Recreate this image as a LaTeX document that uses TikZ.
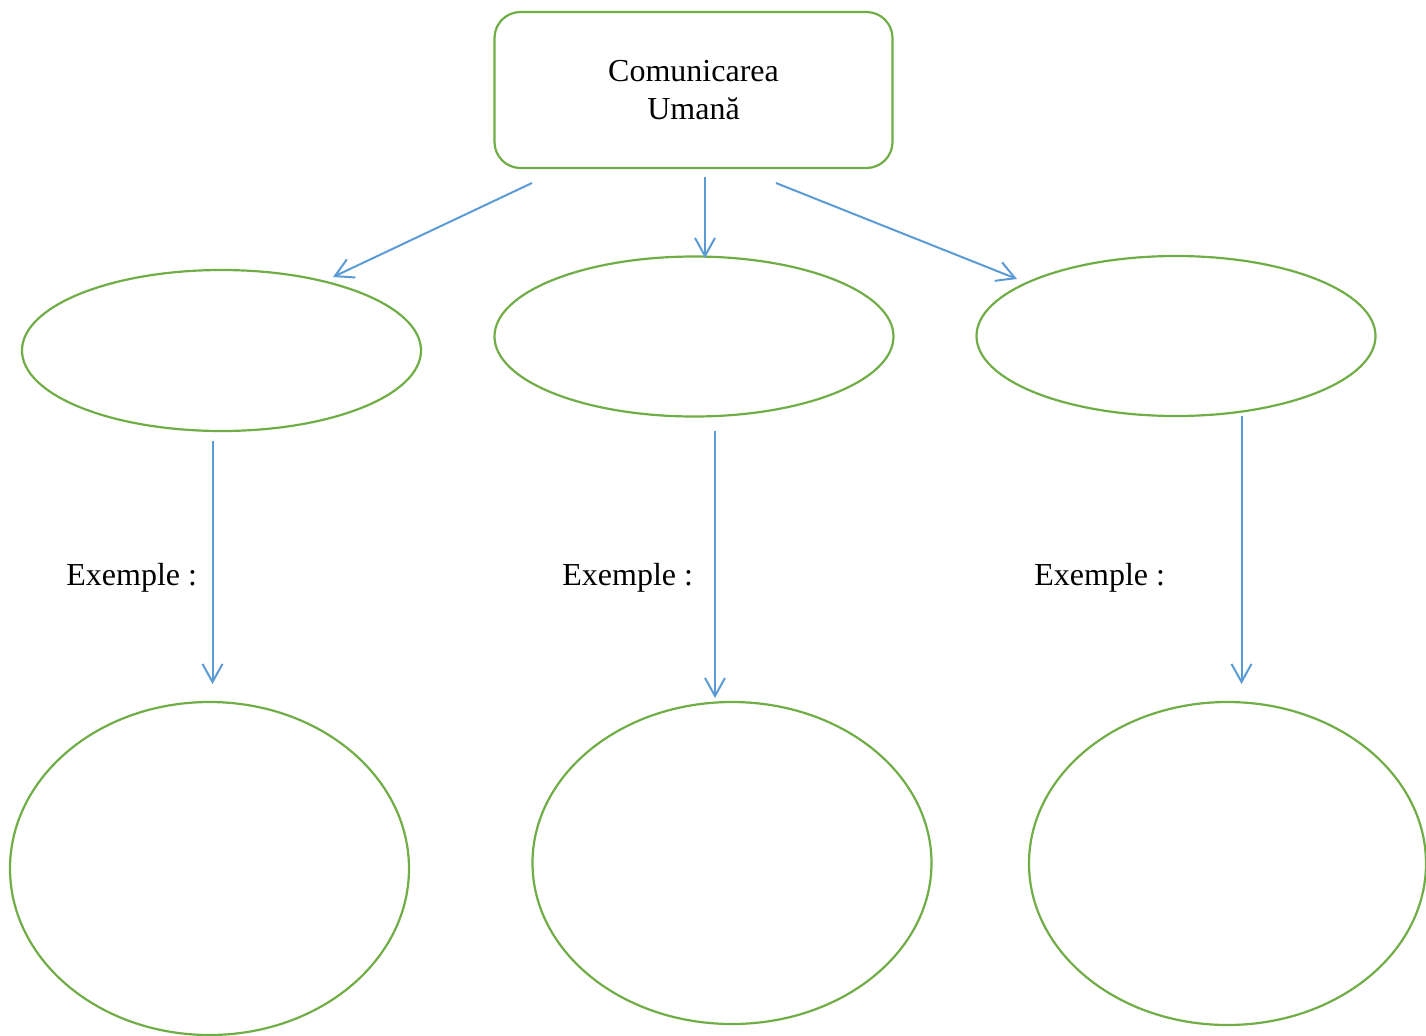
\documentclass[tikz,border=0pt]{standalone}
\usepackage{fontspec}
\setmainfont{Liberation Serif}
\usetikzlibrary{shapes.geometric,arrows.meta}
\definecolor{grn}{RGB}{112,173,71}
\definecolor{blu}{RGB}{91,155,213}
\begin{document}
\begin{tikzpicture}[x=0.5pt,y=-0.5pt,
  txt/.style={font=\fontsize{16}{19}\selectfont},
  topbox/.style={draw=grn,line width=1.1pt,rounded corners=13pt,inner sep=0pt,align=center,txt},
  oval/.style={draw=grn,line width=1.1pt,ellipse,inner sep=0pt},
  conn/.style={draw=blu,line width=1pt,-{Straight Barb[length=9pt,width=10pt]}},
  lbl/.style={anchor=base west,inner sep=0pt,txt}]
\useasboundingbox (0,0) rectangle (1426,1035);
\node[topbox,minimum width=199pt,minimum height=78pt] (top) at (693.5,90) {Comunicarea\\Umană};
\node[oval,minimum width=199.5pt,minimum height=80.5pt] (e1) at (221.5,350.5) {};
\node[oval,minimum width=199.5pt,minimum height=80pt] (e2) at (694,336.5) {};
\node[oval,minimum width=199.5pt,minimum height=80pt] (e3) at (1176,336) {};
\node[oval,minimum width=199.5pt,minimum height=166.5pt] (e4) at (209.5,868.5) {};
\node[oval,minimum width=199.5pt,minimum height=161pt] (e5) at (732,863) {};
\node[oval,minimum width=198.5pt,minimum height=161.5pt] (e6) at (1227.5,863.5) {};
\node[lbl] (x1) at (66,585) {Exemple :};
\node[lbl] (x2) at (562,585) {Exemple :};
\node[lbl] (x3) at (1034,585) {Exemple :};
% connector end points
\coordinate (a1s) at (532,183); \coordinate (a1e) at (333,277);
\coordinate (a2s) at (705,177); \coordinate (a2e) at (705,258);
\coordinate (a3s) at (776,183); \coordinate (a3e) at (1017,279);
\coordinate (a4s) at (212.5,441); \coordinate (a4e) at (212.5,684);
\coordinate (a5s) at (715,431); \coordinate (a5e) at (715,698);
\coordinate (a6s) at (1241.5,416); \coordinate (a6e) at (1241.5,684);
\draw[conn] (a1s) -- (a1e);
\draw[conn] (a2s) -- (a2e);
\draw[conn] (a3s) -- (a3e);
\draw[conn] (a4s) -- (a4e);
\draw[conn] (a5s) -- (a5e);
\draw[conn] (a6s) -- (a6e);
\end{tikzpicture}
\end{document}
